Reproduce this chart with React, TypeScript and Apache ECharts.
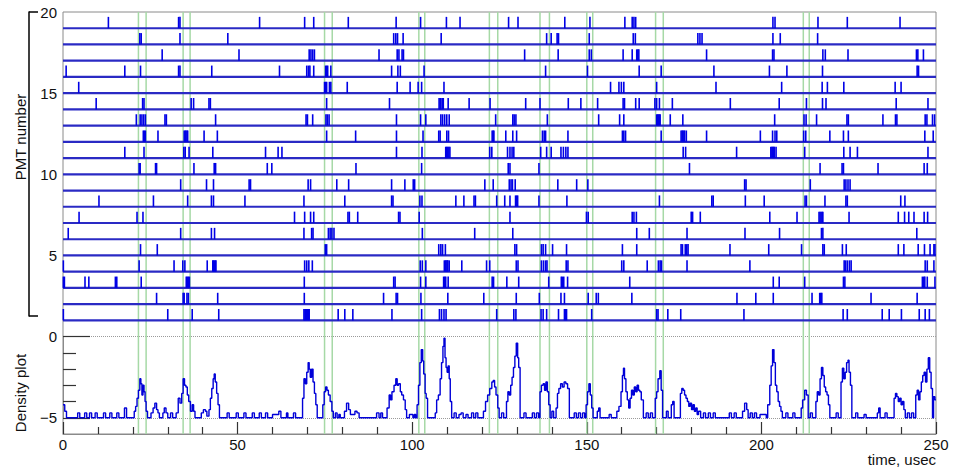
import React, { useEffect, useRef } from "react";
import * as echarts from "echarts";

const FONT = "'Liberation Sans', Arial, Helvetica, sans-serif";

// ---- pulse times (usec) per PMT ----
const pmt01 = [0.1, 30.0, 37.0, 44.6, 69.0, 69.3, 69.5, 69.8, 70.0, 70.3, 70.5, 78.8, 80.7, 83.0, 94.2, 102.7, 107.8, 108.4, 109.1, 109.7, 124.2, 129.1, 129.7, 136.9, 137.5, 138.5, 141.9, 143.6, 143.9, 144.2, 151.4, 170.0, 170.4, 173.2, 176.9, 195.0, 223.4, 224.6, 234.6, 236.6, 240.1, 245.2, 246.9, 248.1];
const pmt02 = [26.8, 34.4, 34.7, 35.5, 35.9, 44.3, 69.1, 91.8, 95.4, 95.8, 102.5, 110.2, 120.5, 129.8, 136.4, 142.6, 143.6, 150.4, 152.7, 153.3, 162.9, 193.0, 198.4, 203.4, 214.5, 216.7, 217.0, 217.3, 231.4, 244.6];
const pmt03 = [0.1, 0.4, 6.3, 7.4, 15.0, 15.4, 22.4, 35.3, 35.6, 35.9, 36.2, 69.1, 94.7, 95.1, 102.4, 103.9, 109.0, 109.3, 109.6, 110.3, 122.9, 123.3, 127.1, 130.5, 139.1, 142.7, 143.0, 143.4, 144.5, 162.3, 203.4, 205.1, 212.4, 223.5, 223.9, 246.1, 246.5, 246.8, 247.5, 249.7];
const pmt04 = [0.1, 21.8, 31.8, 34.3, 34.9, 41.3, 42.9, 43.1, 43.3, 43.6, 43.8, 69.2, 69.8, 70.4, 71.4, 102.3, 102.9, 103.9, 109.2, 109.5, 109.7, 110.0, 110.2, 110.6, 114.2, 121.3, 122.2, 129.8, 130.3, 137.0, 137.6, 138.2, 138.6, 144.1, 144.6, 160.0, 160.6, 167.3, 170.5, 171.0, 171.4, 178.7, 196.7, 223.7, 224.1, 224.6, 225.2, 225.7, 246.9, 247.5, 249.4];
const pmt05 = [22.2, 27.0, 75.1, 75.5, 107.6, 108.2, 108.7, 109.5, 129.4, 129.9, 137.0, 137.5, 138.2, 140.2, 144.2, 160.2, 164.3, 177.0, 177.4, 178.2, 178.6, 179.0, 191.0, 202.1, 211.5, 217.6, 218.0, 223.2, 224.3, 239.2, 240.8, 244.9, 246.7, 248.3, 249.4, 249.7];
const pmt06 = [1.5, 33.7, 42.5, 43.4, 69.0, 71.2, 71.6, 76.0, 76.5, 77.0, 77.6, 102.9, 117.9, 128.8, 164.3, 167.9, 178.7, 195.3, 205.2, 217.2, 217.6, 244.5];
const pmt07 = [4.6, 21.2, 22.9, 66.3, 69.2, 70.9, 71.8, 81.6, 82.0, 84.4, 96.1, 96.5, 102.0, 128.0, 149.9, 150.4, 163.0, 163.5, 164.2, 179.9, 180.3, 182.5, 202.4, 210.2, 216.5, 216.8, 217.1, 217.4, 217.6, 225.1, 239.2, 241.0, 242.2, 243.7, 246.6, 247.6];
const pmt08 = [10.3, 25.9, 35.7, 42.5, 43.1, 52.1, 69.0, 80.7, 94.1, 94.5, 102.2, 102.8, 112.5, 114.8, 117.7, 118.1, 124.2, 126.5, 128.0, 129.6, 129.9, 130.2, 136.3, 144.3, 170.8, 185.8, 186.2, 195.4, 200.8, 212.5, 212.9, 218.2, 224.2, 224.6, 239.9, 241.1];
const pmt09 = [33.7, 41.1, 43.1, 53.3, 53.7, 70.2, 70.9, 78.4, 81.8, 94.1, 97.9, 100.3, 100.7, 120.8, 123.2, 127.8, 128.3, 128.7, 129.5, 141.7, 147.1, 150.3, 195.2, 195.6, 214.0, 223.7, 224.2, 224.8, 225.4];
const pmt10 = [21.8, 22.1, 26.5, 26.8, 37.5, 43.3, 43.7, 58.5, 59.8, 83.9, 102.7, 127.5, 128.0, 136.3, 179.4, 216.8, 223.1, 223.5, 233.4, 246.6, 247.5];
const pmt11 = [17.7, 23.2, 34.6, 35.0, 36.1, 42.9, 58.0, 61.6, 62.7, 95.5, 102.8, 109.6, 109.9, 110.2, 110.5, 110.8, 122.2, 122.8, 127.3, 128.0, 128.6, 129.1, 136.8, 138.5, 139.8, 142.6, 143.3, 144.0, 144.6, 177.6, 178.3, 192.9, 202.7, 203.0, 203.2, 203.5, 203.7, 204.2, 212.4, 223.6, 225.4, 227.5, 247.7];
const pmt12 = [23.0, 23.3, 23.6, 27.2, 34.7, 35.0, 35.2, 35.5, 35.7, 40.4, 44.2, 75.5, 83.8, 95.5, 103.1, 107.6, 108.0, 109.9, 110.4, 122.9, 123.2, 123.4, 126.8, 128.8, 129.9, 137.3, 137.8, 138.2, 144.6, 160.2, 160.6, 161.1, 171.3, 177.0, 177.3, 177.5, 177.8, 178.0, 178.5, 184.3, 199.7, 203.2, 203.9, 204.4, 212.1, 212.7, 219.6, 223.5, 224.9, 246.8, 249.2];
const pmt13 = [21.0, 22.1, 22.6, 23.1, 23.6, 29.2, 29.6, 43.7, 69.6, 70.0, 71.5, 75.3, 75.7, 76.2, 95.5, 102.4, 103.9, 108.2, 108.7, 109.3, 109.9, 110.6, 123.9, 128.8, 129.2, 129.7, 138.7, 153.4, 159.4, 160.6, 170.0, 170.3, 170.5, 170.8, 171.0, 173.9, 177.5, 203.8, 212.2, 212.8, 215.8, 224.5, 224.9, 234.8, 238.4, 238.8, 246.9, 247.4, 249.0, 249.6];
const pmt14 = [9.5, 22.8, 23.2, 36.7, 37.4, 41.8, 42.2, 75.5, 93.5, 107.7, 108.0, 108.2, 108.6, 108.9, 110.3, 116.3, 122.3, 132.5, 136.6, 144.7, 148.3, 153.1, 160.4, 160.8, 164.0, 165.0, 169.5, 170.0, 170.8, 174.5, 191.1, 205.1, 212.9, 217.5, 218.5, 238.6, 247.7];
const pmt15 = [4.5, 74.9, 75.2, 75.5, 76.3, 76.7, 81.4, 95.7, 99.4, 101.7, 102.7, 109.1, 156.8, 159.2, 159.9, 160.6, 170.0, 187.0, 205.8, 217.4, 218.9, 223.6, 238.3, 240.0];
const pmt16 = [0.9, 17.7, 22.2, 33.1, 33.5, 42.6, 62.0, 69.8, 70.3, 70.7, 71.8, 75.2, 75.5, 75.8, 76.7, 94.1, 95.9, 96.6, 103.4, 138.2, 150.2, 165.0, 171.3, 186.4, 202.3, 207.3, 217.5, 244.6, 245.0];
const pmt17 = [28.4, 50.4, 70.5, 71.0, 71.5, 72.0, 90.5, 95.7, 96.2, 97.1, 97.5, 132.2, 141.8, 150.7, 151.3, 160.4, 163.0, 164.3, 164.6, 164.9, 184.3, 203.2, 203.6, 217.6, 218.3, 224.8, 244.4, 244.8, 246.4];
const pmt18 = [22.0, 22.4, 33.5, 47.2, 94.7, 95.3, 95.8, 97.4, 108.3, 138.5, 139.8, 141.5, 141.9, 150.7, 163.3, 163.9, 181.8, 182.4, 183.0, 203.3, 205.4, 216.1];
const pmt19 = [13.0, 33.1, 33.5, 56.3, 69.2, 71.8, 81.7, 95.4, 102.4, 109.8, 113.7, 127.6, 130.3, 143.7, 150.9, 160.9, 163.0, 163.5, 164.0, 203.3, 203.9, 216.2, 224.6, 239.7];

const pmtRows = [pmt01, pmt02, pmt03, pmt04, pmt05, pmt06, pmt07, pmt08, pmt09, pmt10, pmt11, pmt12, pmt13, pmt14, pmt15, pmt16, pmt17, pmt18, pmt19];
const pmtNumbers = pmtRows.map((_, i) => i + 1);
const pulseHeight = 0.7;

// ---- coincidence windows (usec) ----
const windows = [
  [21.6, 23.8], [34.4, 36.4], [74.9, 77.1], [101.9, 103.6], [122.1, 124.5],
  [136.6, 139.3], [150.0, 151.7], [169.7, 171.9], [212.0, 213.7],
];

// ---- density plot (time, value) step points ----
const density = [
  [0, -4.2], [0.5, -4.6], [1, -5], [4.2, -4.7], [4.8, -5], [6.2, -4.7], [6.8, -5], [7.6, -4.7], [8.2, -5], [9.2, -4.7], [9.8, -5],
  [11.6, -4.7], [12.2, -5], [13.4, -4.7], [14, -5], [15.4, -4.7], [16, -5], [17.6, -4.4], [18.2, -5],
  [20.4, -4.6], [20.8, -4.3], [21.2, -3.8], [21.6, -3.3], [22.0, -2.6], [22.3, -2.9], [22.6, -3.6], [22.9, -3.0], [23.2, -3.4], [23.5, -4.0], [23.8, -4.6], [24.2, -5],
  [25.2, -4.7], [25.8, -4.4], [26.3, -4.1], [26.8, -4.5], [27.2, -4.7], [27.6, -5], [28.6, -4.7], [29.0, -4.4], [29.5, -4.7], [30.0, -5], [30.8, -4.7], [31.4, -5], [32.4, -4.7],
  [33.0, -3.8], [33.5, -4.1], [34.0, -3.5], [34.4, -2.6], [34.8, -3.0], [35.2, -3.1], [35.6, -3.6], [36.0, -4.0], [36.5, -4.6], [37.0, -4.2], [37.4, -4.6], [37.8, -5],
  [39.6, -4.7], [40.2, -4.5], [40.8, -4.6], [41.2, -4.9], [41.8, -4.5], [42.2, -3.8], [42.6, -3.2], [43.0, -2.6], [43.3, -2.3], [43.6, -2.8], [44.0, -3.5], [44.4, -4.2], [44.8, -5],
  [47.0, -4.7], [47.6, -5], [49.6, -4.7], [50.2, -5], [51.8, -4.7], [52.4, -5], [54.2, -4.7], [54.8, -5], [56.2, -4.7], [56.8, -5], [58.0, -4.7], [58.6, -5],
  [60.0, -4.8], [61.8, -4.6], [62.4, -5], [64.0, -4.7], [64.4, -5], [66.0, -4.7], [66.6, -5],
  [68.6, -3.8], [69.0, -2.6], [69.4, -2.9], [69.8, -2.2], [70.2, -1.6], [70.5, -2.0], [70.8, -2.5], [71.2, -2.0], [71.6, -2.8], [72.0, -3.5], [72.4, -4.2], [72.8, -5],
  [74.4, -4.2], [74.8, -3.4], [75.2, -3.1], [75.6, -3.3], [76.0, -3.6], [76.5, -4.0], [77.0, -4.6], [77.4, -5],
  [78.0, -4.7], [78.5, -5], [79.0, -4.8], [79.4, -5], [80.6, -4.6], [81.2, -4.1], [81.8, -4.5], [82.3, -4.8], [83.6, -4.6], [84.2, -4.7], [84.8, -5],
  [89.8, -4.7], [90.5, -5], [91.0, -4.7], [91.5, -5],
  [92.8, -4.4], [93.4, -3.6], [93.8, -3.9], [94.2, -3.4], [94.8, -3.0], [95.3, -2.6], [95.7, -3.0], [96.1, -2.9], [96.6, -3.4], [97.0, -3.6], [97.5, -3.9], [98.0, -4.5], [98.4, -5],
  [99.2, -4.8], [100.2, -5], [100.6, -4.8], [101.0, -5],
  [101.4, -4.2], [101.8, -3.0], [102.2, -1.6], [102.6, -0.8], [103.0, -1.5], [103.3, -2.3], [103.7, -3.5], [104.0, -3.8], [104.4, -5],
  [106.6, -4.7], [107.0, -3.9], [107.5, -3.6], [108.0, -2.6], [108.4, -1.6], [108.8, -0.6], [109.1, -0.1], [109.4, -1.3], [109.7, -1.9], [110.0, -2.2], [110.3, -1.8], [110.6, -2.6], [110.9, -4.0], [111.3, -5],
  [112.0, -4.7], [112.6, -5], [113.4, -4.8], [114.0, -4.7], [114.6, -5], [115.4, -4.8], [116.0, -5], [117.0, -4.7], [117.6, -5], [118.2, -4.7], [118.8, -5],
  [120.4, -4.6], [121.0, -4.0], [121.6, -3.6], [122.2, -3.2], [122.8, -2.8], [123.2, -2.7], [123.6, -3.1], [124.0, -3.6], [124.5, -4.4], [124.9, -5],
  [125.6, -4.7], [126.2, -5],
  [127.0, -4.0], [127.4, -3.4], [127.8, -3.6], [128.2, -3.0], [128.6, -2.5], [129.0, -1.9], [129.4, -1.2], [129.8, -0.4], [130.2, -1.3], [130.5, -1.9], [130.9, -5],
  [132.0, -4.7], [132.6, -5], [134.4, -4.7], [135.0, -5], [135.6, -4.7], [136.2, -5],
  [136.6, -3.4], [137.0, -3.0], [137.5, -2.9], [137.9, -3.3], [138.3, -2.8], [138.7, -3.4], [139.1, -4.2], [139.5, -5],
  [140.0, -4.6], [140.5, -5],
  [141.2, -4.4], [141.6, -3.5], [142.0, -3.2], [142.5, -2.9], [143.0, -3.1], [143.5, -2.8], [144.0, -2.9], [144.5, -3.2], [145.0, -5],
  [146.4, -4.7], [147.0, -5], [147.6, -4.7], [148.2, -5], [148.8, -4.7], [149.4, -5],
  [149.8, -4.2], [150.2, -3.4], [150.6, -2.9], [151.0, -3.6], [151.4, -4.4], [151.8, -5],
  [153.0, -4.6], [153.4, -4.4], [153.8, -5], [156.4, -4.8], [157.0, -5],
  [158.6, -4.6], [159.2, -4.3], [159.8, -3.4], [160.2, -2.4], [160.5, -1.95], [160.8, -2.6], [161.2, -3.4], [161.6, -3.9], [162.0, -4.4], [162.4, -3.8], [162.8, -3.3], [163.2, -3.6], [163.6, -3.1], [164.0, -3.4], [164.4, -3.0], [164.8, -3.3], [165.2, -3.4], [165.6, -3.9], [166.2, -5],
  [167.0, -4.7], [167.6, -5], [168.2, -4.7], [168.8, -5],
  [169.6, -3.8], [170.0, -3.4], [170.4, -2.6], [170.9, -2.1], [171.3, -3.3], [171.7, -5],
  [172.8, -4.6], [173.3, -5], [174.2, -4.2], [174.6, -4.0], [175.0, -5],
  [176.8, -3.5], [177.2, -3.2], [177.6, -3.3], [178.0, -3.6], [178.4, -3.8], [178.8, -4.0], [179.2, -4.3], [179.6, -4.1], [180.0, -4.5], [180.4, -4.2], [180.8, -4.6], [181.2, -4.4], [181.6, -4.8], [182.0, -4.6], [182.6, -5],
  [183.4, -4.7], [184.0, -5], [184.8, -4.7], [185.4, -5], [186.2, -4.7], [186.8, -5],
  [190.8, -4.7], [191.4, -5], [192.2, -4.7], [192.8, -5], [194.6, -4.6], [195.2, -4.1], [195.8, -4.5], [196.2, -5], [196.8, -4.7], [197.4, -5], [198.0, -4.7], [198.6, -5],
  [199.6, -4.8], [201.4, -5],
  [201.8, -4.2], [202.4, -3.0], [202.8, -1.8], [203.2, -0.8], [203.6, -1.6], [204.0, -3.0], [204.4, -3.4], [204.8, -4.0], [205.2, -4.3], [205.6, -4.6], [206.0, -5],
  [207.0, -4.7], [207.6, -5], [209.0, -4.7], [209.6, -5],
  [211.4, -4.4], [211.8, -3.9], [212.4, -3.3], [212.9, -3.6], [213.4, -5],
  [214.0, -4.7], [214.6, -5],
  [215.6, -4.0], [216.0, -3.4], [216.4, -3.6], [216.8, -2.6], [217.2, -1.9], [217.6, -2.4], [218.0, -3.1], [218.4, -3.4], [218.8, -3.6], [219.2, -4.2], [219.6, -5],
  [221.4, -4.7], [222.0, -5],
  [222.8, -2.8], [223.2, -1.95], [223.6, -2.6], [224.0, -2.2], [224.4, -1.6], [224.8, -1.45], [225.1, -2.2], [225.5, -3.0], [225.9, -5],
  [227.0, -4.7], [227.6, -5], [229.4, -4.8], [230.0, -5], [233.2, -4.7], [233.6, -4.4], [234.0, -5], [235.4, -4.7], [236.0, -5],
  [238.0, -3.8], [238.4, -3.5], [238.8, -3.7], [239.2, -4.0], [239.6, -3.8], [240.0, -4.2], [240.4, -4.0], [240.8, -4.5], [241.2, -5], [241.8, -4.7], [242.4, -5], [243.0, -4.7], [243.6, -5],
  [244.2, -3.6], [244.6, -3.3], [245.0, -3.9], [245.4, -3.4], [245.8, -2.8], [246.2, -2.4], [246.6, -2.2], [247.0, -2.8], [247.4, -2.0], [247.8, -1.3], [248.2, -2.2], [248.6, -3.2], [249.0, -5], [249.3, -3.7], [249.7, -3.9], [250, -3.9],
];

// axis ranges
const timeMin = 0;
const timeMax = 250;
const yMin = -6;
const yMax = 20;
const densityTicks = [-5, 0];
const pmtLabels = [5, 10, 15, 20];
const timeMajor = [0, 50, 100, 150, 200, 250];
const timeMinor = [10, 20, 30, 40, 60, 70, 80, 90, 110, 120, 130, 140, 160, 170, 180, 190, 210, 220, 230, 240];

export default function App() {
  const ref = useRef<HTMLDivElement>(null);

  useEffect(() => {
    if (!ref.current) return;
    const chart = echarts.init(ref.current, undefined, { renderer: "svg" });

    const gL = 63, gT = 12, gW = 873, gH = 422;
    const unit = gH / (yMax - yMin);
    const bracketBottom = 316;
    const bracketMin = yMax - (bracketBottom - gT) / unit;

    const pulseData = pmtRows.flatMap((arr, i) => arr.map((t) => [t, i + 1]));

    const option: any = {
      animation: false,
      textStyle: { fontFamily: FONT },
      grid: [
        { left: gL, top: gT, width: gW, height: gH, show: true, borderColor: "#8a8a8a", borderWidth: 1, backgroundColor: "transparent" },
        { left: gL, top: gT + (yMax - 0) * unit, width: gW, height: 5 * unit, show: false },
        { left: 29, top: gT, width: gL + gW - 29, height: bracketBottom - gT, show: false },
        { left: gL, top: gT, width: gW, height: gH, show: false },
      ],
      xAxis: [
        {
          gridIndex: 0, type: "value", min: timeMin, max: timeMax, position: "bottom",
          axisLine: { show: true, onZero: false, lineStyle: { color: "#8a8a8a", width: 1 } },
          axisTick: { show: true, inside: true, length: 12, customValues: timeMajor, lineStyle: { color: "#333", width: 1.2 } },
          axisLabel: { fontSize: 15, color: "#111", margin: 3, fontFamily: FONT, customValues: timeMajor },
          splitLine: { show: false },
        },
        { gridIndex: 1, type: "value", min: timeMin, max: timeMax, show: false },
        { gridIndex: 2, type: "value", min: 0, max: 1, show: false },
        {
          gridIndex: 3, type: "value", min: timeMin, max: timeMax, position: "bottom",
          axisLine: { show: false, onZero: false },
          axisTick: { show: true, inside: true, length: 7, customValues: timeMinor, lineStyle: { color: "#333", width: 1.2 } },
          axisLabel: { show: false },
          splitLine: { show: false },
        },
      ],
      yAxis: [
        { gridIndex: 0, type: "value", min: yMin, max: yMax, show: false },
        {
          gridIndex: 1, type: "value", min: densityTicks[0], max: densityTicks[1], interval: 5,
          axisLine: { show: true, lineStyle: { color: "#8a8a8a", width: 1 } },
          axisTick: { show: true, inside: true, length: 27, lineStyle: { color: "#333", width: 1.2 } },
          minorTick: { show: true, splitNumber: 5, length: 13, lineStyle: { color: "#333", width: 1.2 } },
          splitLine: { show: true, lineStyle: { type: "dotted", color: "#9a9a9a", width: 1 } },
          axisLabel: { fontSize: 15, color: "#111", margin: 6, fontFamily: FONT, formatter: (v: number) => (v < 0 ? "\u2212" + Math.abs(v) : String(v)) },
        },
        {
          gridIndex: 2, type: "value", min: bracketMin, max: yMax,
          axisLine: { show: true, lineStyle: { color: "#000", width: 1.5 } },
          axisTick: { show: true, inside: true, length: 9, customValues: [bracketMin, yMax], lineStyle: { color: "#000", width: 1.5 } },
          axisLabel: { show: true, inside: true, align: "right", margin: 28, fontSize: 15, color: "#111", fontFamily: FONT, customValues: pmtLabels },
          splitLine: { show: false },
        },
        { gridIndex: 3, type: "value", min: yMin, max: yMax, show: false },
      ],
      graphic: [
        { type: "text", x: 20, y: 137, rotation: Math.PI / 2, style: { text: "PMT number", fontSize: 15, fontFamily: FONT, fill: "#111", align: "center", verticalAlign: "middle" } },
        { type: "text", x: 20, y: 393, rotation: Math.PI / 2, style: { text: "Density plot", fontSize: 15, fontFamily: FONT, fill: "#111", align: "center", verticalAlign: "middle" } },
        { type: "text", x: 936, y: 452, style: { text: "time, usec", fontSize: 15, fontFamily: FONT, fill: "#111", align: "right", verticalAlign: "top" } },
      ],
      series: [
        {
          type: "custom", xAxisIndex: 0, yAxisIndex: 0, silent: true, z: 1,
          data: windows,
          renderItem: (params: any, api: any) => {
            const s = api.value(0), e = api.value(1);
            const mk = (t: number) => {
              const a = api.coord([t, yMin]);
              const b = api.coord([t, yMax]);
              return { type: "line", shape: { x1: a[0], y1: a[1], x2: b[0], y2: b[1] }, style: { stroke: "#a6d9a6", lineWidth: 1.5 } };
            };
            return { type: "group", children: [mk(s), mk(e)] };
          },
        },
        {
          type: "custom", xAxisIndex: 0, yAxisIndex: 0, silent: true, z: 2,
          data: pmtNumbers.map((n) => [n]),
          renderItem: (params: any, api: any) => {
            const r = api.value(0);
            const a = api.coord([timeMin, r]);
            const b = api.coord([timeMax, r]);
            return { type: "line", shape: { x1: a[0], y1: a[1], x2: b[0], y2: b[1] }, style: { stroke: "#2a2ac4", lineWidth: 2.2 } };
          },
        },
        {
          type: "custom", xAxisIndex: 0, yAxisIndex: 0, silent: true, z: 3,
          data: pulseData,
          renderItem: (params: any, api: any) => {
            const t = api.value(0), r = api.value(1);
            const a = api.coord([t, r]);
            const b = api.coord([t, r + pulseHeight]);
            return { type: "line", shape: { x1: a[0], y1: a[1], x2: b[0], y2: b[1] }, style: { stroke: "#0000e6", lineWidth: 1.6 } };
          },
        },
        {
          type: "line", xAxisIndex: 0, yAxisIndex: 0, step: "end", symbol: "none", silent: true, z: 4,
          data: density,
          lineStyle: { color: "#0000d8", width: 1.4 },
        },
      ],
    };

    chart.setOption(option);
    return () => chart.dispose();
  }, []);

  return <div ref={ref} style={{ position: "fixed", left: 0, top: 0, width: 960, height: 467, background: "#fff" }} />;
}
